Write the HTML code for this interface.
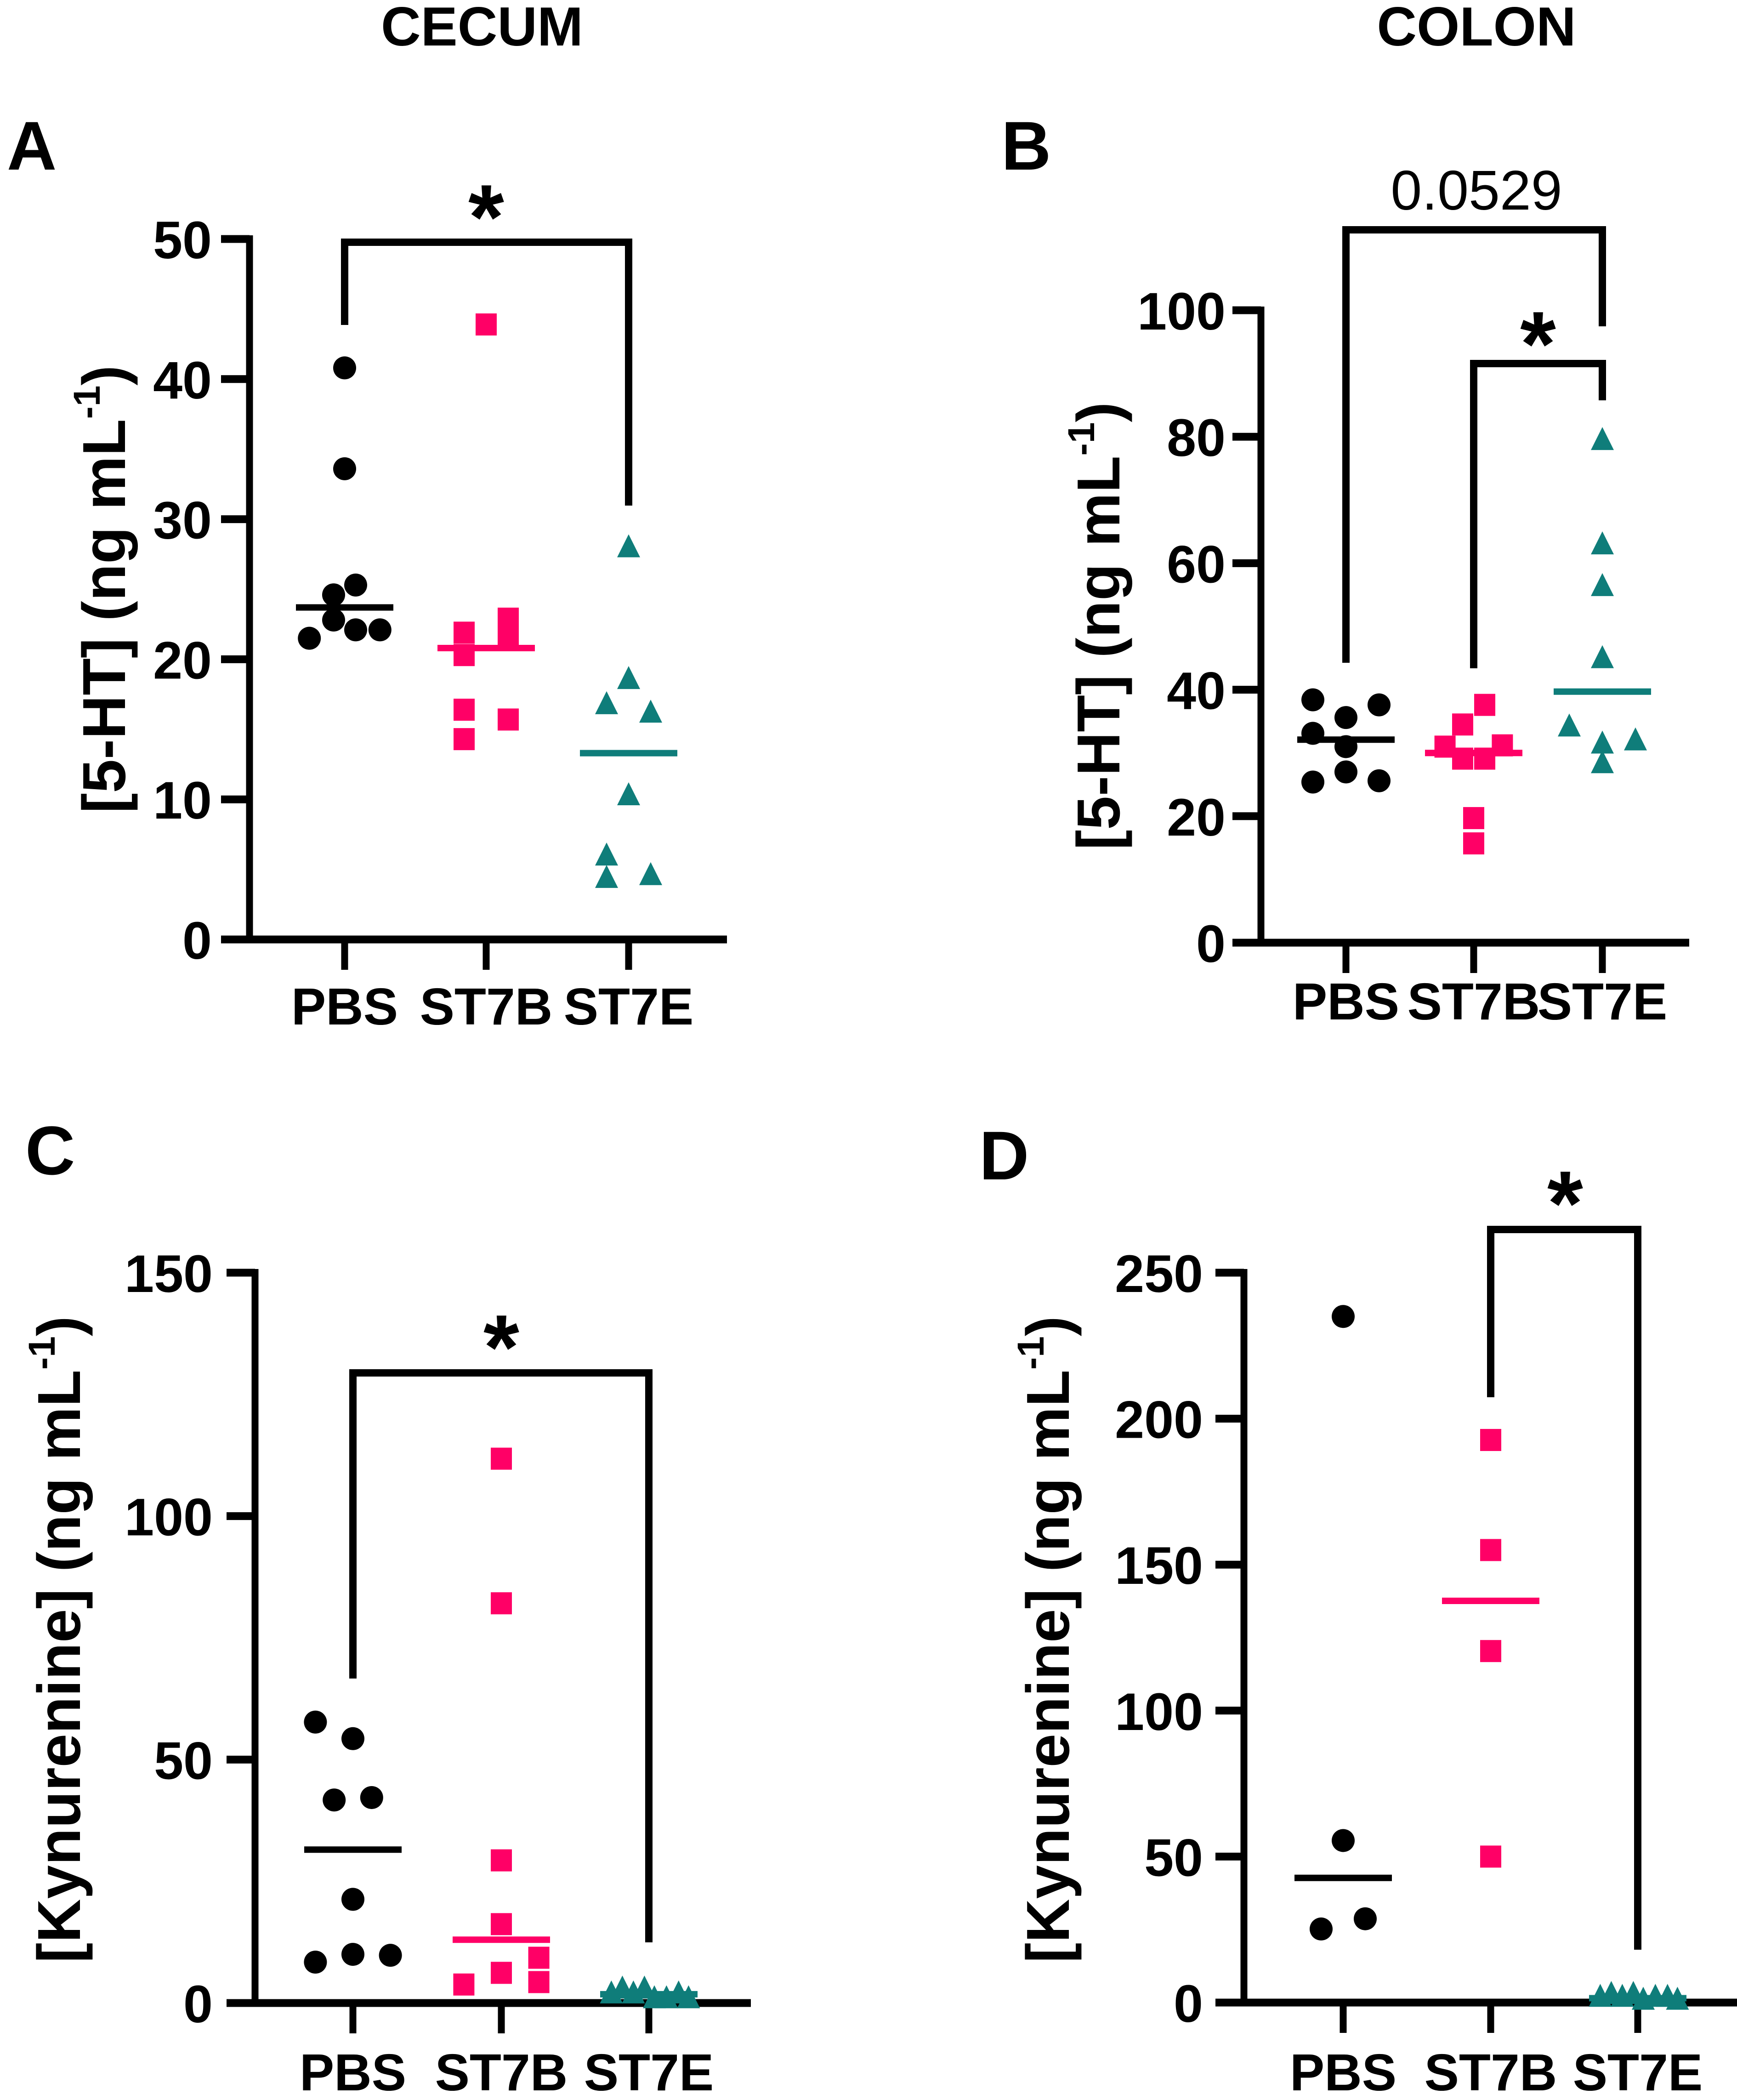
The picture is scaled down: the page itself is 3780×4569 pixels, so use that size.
<!DOCTYPE html>
<html><head><meta charset="utf-8"><style>html,body{margin:0;padding:0;background:#fff}svg{display:block}text{font-family:"Liberation Sans",Arial,sans-serif}</style></head>
<body>
<svg id="fig" xmlns="http://www.w3.org/2000/svg" width="3780" height="4569" viewBox="0 0 3780 4569">
<rect width="3780" height="4569" fill="#fff"/>
<text x="1049" y="99" font-size="120" font-weight="bold" text-anchor="middle">CECUM</text>
<text x="3213" y="99" font-size="120" font-weight="bold" text-anchor="middle">COLON</text>
<text x="15" y="369" font-size="150" font-weight="bold">A</text>
<text x="2179" y="369" font-size="150" font-weight="bold">B</text>
<text x="55" y="2555" font-size="150" font-weight="bold">C</text>
<text x="2131" y="2566" font-size="150" font-weight="bold">D</text>
<g id="layer"></g>
</svg>
<script>
// ---- data ----
const categories = ["PBS", "ST7B", "ST7E"];
// Panel A (cecum 5-HT)
const aPBS = [40.8, 33.6, 25.3, 24.6, 22.8, 22.1, 22.1, 21.5];
const aPBSdx = [0, 0, 0.5, -0.5, -0.5, 0.5, 1.6, -1.6];
const aST7B = [43.9, 22.9, 21.9, 21.5, 20.3, 16.4, 15.7, 14.3];
const aST7Bdx = [0, 1, -1, 1, -1, -1, 1, -1];
const aST7E = [28, 18.6, 16.8, 16.2, 10.3, 6.0, 4.6, 4.4];
const aST7Edx = [0, 0, -1, 1, 0, -1, 1, -1];
const aMeans = [23.7, 20.8, 13.3];
const aTicks = [0, 10, 20, 30, 40, 50];
// Panel B (colon 5-HT)
const bPBS = [38.4, 37.6, 35.6, 33.1, 31, 27, 25.6, 25.4];
const bPBSdx = [-1.5, 1.5, 0, -1.5, 0, 0, 1.5, -1.5];
const bST7B = [37.6, 34.5, 31.2, 31, 29.1, 29.1, 19.7, 15.7];
const bST7Bdx = [0.5, -0.5, 1.3, -1.3, -0.5, 0.5, 0, 0];
const bST7E = [79.5, 63, 56.4, 45, 34.2, 32, 31.5, 28.4];
const bST7Edx = [0, 0, 0, 0, -1.5, 1.5, 0, 0];
const bMeans = [32.1, 30, 39.7];
const bTicks = [0, 20, 40, 60, 80, 100];
// Panel C (cecum kynurenine)
const cPBS = [57.7, 54.3, 42.2, 41.7, 21.3, 10, 9.8, 8.4];
const cPBSdx = [-1.7, 0, 0.85, -0.85, 0, 0, 1.7, -1.7];
const cST7B = [111.8, 82.1, 29.3, 16.2, 9.3, 6.2, 4.3, 3.8];
const cST7Bdx = [0, 0, 0, 0, 1.7, 0, 1.7, -1.7];
const cST7E = [2, 3, 2, 3, 1, 1, 2, 1];
const cST7Edx = [-1.7, -1.2, -0.7, -0.2, 0.25, 0.8, 1.35, 1.8];
const cMeans = [31.5, 13, 1.8];
const cTicks = [0, 50, 100, 150];
// Panel D (colon kynurenine)
const dPBS = [235, 55.5, 28.7, 25.2];
const dPBSdx = [0, 0, 1, -1];
const dST7B = [192.7, 155, 120.4, 50];
const dST7Bdx = [0, 0, 0, 0];
const dST7E = [2, 3, 2, 3, 1, 2, 2, 1];
const dST7Edx = [-1.7, -1.2, -0.7, -0.2, 0.25, 0.8, 1.35, 1.8];
const dMeans = [42.7, 137.6, 1.5];
const dTicks = [0, 50, 100, 150, 200, 250];

const NS = "http://www.w3.org/2000/svg";
const layer = document.getElementById("layer");
const PINK = "#FF0066", TEAL = "#0F7D7A";
function mk(tag, attrs, parent) {
  const e = document.createElementNS(NS, tag);
  for (const k in attrs) e.setAttribute(k, attrs[k]);
  (parent || layer).appendChild(e);
  return e;
}
function panel(cfg) {
  const g = mk("g", {});
  
  
  const ymax = cfg.ticks[cfg.ticks.length - 1];
  const y = v => cfg.y0 - (v / ymax) * (cfg.y0 - cfg.yTop);
  const cx = i => cfg.cats[i];
  const U = 48;
  const ya = mk("line", {x1: cfg.ax, x2: cfg.ax, y1: cfg.yTop - 8, y2: cfg.y0 + 8, stroke: "#000", "stroke-width": 15}, g);
  
  
  const xa = mk("line", {x1: cfg.ax - 62, x2: cfg.xEnd, y1: cfg.y0, y2: cfg.y0, stroke: "#000", "stroke-width": 17}, g);
  
  
  cfg.ticks.forEach(t => {
    const l = mk("line", {x1: cfg.ax - 62, x2: cfg.ax, y1: y(t), y2: y(t), stroke: "#000", "stroke-width": 17}, g);
    
    
    const tx = mk("text", {x: cfg.labR, y: y(t) + 42, "font-size": 115, "font-weight": "bold", "text-anchor": "end"}, g);
    
    
    tx.textContent = t;
  });
  categories.forEach((c, i) => {
    const l = mk("line", {x1: cx(i), x2: cx(i), y1: cfg.y0, y2: cfg.y0 + 66, stroke: "#000", "stroke-width": 15}, g);
    
    
    const tx = mk("text", {x: cx(i), y: cfg.catY, "font-size": 113, "font-weight": "bold", "text-anchor": "middle"}, g);
    
    
    tx.textContent = c;
  });
  const yl = mk("text", {x: 0, y: 0, "font-size": 132, "font-weight": "bold", "text-anchor": "middle", transform: `translate(${cfg.ylx + 46},${cfg.yly}) rotate(-90)`}, g);
  
  
  yl.appendChild(document.createTextNode(cfg.ylab + " (ng mL"));
  const sp = mk("tspan", {"font-size": 82, dy: -55}, yl);
  sp.textContent = "-1";
  const sp2 = mk("tspan", {dy: 55}, yl);
  sp2.textContent = ")";
  const groups = [[cfg.v[0], cfg.dx[0]], [cfg.v[1], cfg.dx[1]], [cfg.v[2], cfg.dx[2]]];
  groups.forEach((gr, i) => {
    gr[0].forEach((v, j) => {
      const px = cx(i) + gr[1][j] * U, py = y(v);
      let m;
      if (i === 0) m = mk("ellipse", {cx: px, cy: py, rx: 25, ry: 25, fill: "#000"}, g);
      else if (i === 1) m = mk("rect", {x: px - 23, y: py - 24, width: 46, height: 48, fill: PINK}, g);
      else m = mk("polygon", {points: `${px - 25},${py + 22} ${px + 25},${py + 22} ${px},${py - 28}`, fill: TEAL}, g);
      
      
    });
    const ml = mk("line", {x1: cx(i) - 106, x2: cx(i) + 106, y1: y(cfg.means[i]), y2: y(cfg.means[i]), stroke: ["#000", PINK, TEAL][i], "stroke-width": 14}, g);
    
    
  });
  cfg.brackets.forEach(b => {
    const p = mk("polyline", {points: `${cx(b.a)},${b.la} ${cx(b.a)},${b.top} ${cx(b.b)},${b.top} ${cx(b.b)},${b.lb}`, fill: "none", stroke: "#000", "stroke-width": 16}, g);
    
    
    const t = mk("text", {x: b.tx, y: b.star ? b.ty + 118 : b.ty, "font-size": b.star ? 200 : 122, "font-weight": b.star ? "bold" : "normal", "text-anchor": "middle"}, g);
    
    
    t.textContent = b.label;
  });
}
panel({name: "panel-a-cecum-5ht", ax: 543, y0: 2044, yTop: 520, ticks: aTicks, xEnd: 1582, cats: [750, 1058, 1368], labR: 461, catY: 2229, ylx: 226, yly: 1282, ylab: "[5-HT]",
  v: [aPBS, aST7B, aST7E], dx: [aPBSdx, aST7Bdx, aST7Edx], means: aMeans,
  brackets: [{a: 0, b: 2, top: 527, la: 707, lb: 1100, star: true, label: "*", tx: 1058, ty: 423}]});
panel({name: "panel-b-colon-5ht", ax: 2744, y0: 2051, yTop: 675, ticks: bTicks, xEnd: 3676, cats: [2929, 3207, 3487], labR: 2667, catY: 2218, ylx: 2390, yly: 1362, ylab: "[5-HT]",
  v: [bPBS, bST7B, bST7E], dx: [bPBSdx, bST7Bdx, bST7Edx], means: bMeans,
  brackets: [{a: 0, b: 2, top: 500, la: 1442, lb: 710, star: false, label: "0.0529", tx: 3213, ty: 456},
             {a: 1, b: 2, top: 791, la: 1454, lb: 871, star: true, label: "*", tx: 3347, ty: 699}]});
panel({name: "panel-c-cecum-kynurenine", ax: 555, y0: 4358, yTop: 2769, ticks: cTicks, xEnd: 1634, cats: [768, 1091, 1412], labR: 463, catY: 4548, ylx: 128, yly: 3567, ylab: "[Kynurenine]",
  v: [cPBS, cST7B, cST7E], dx: [cPBSdx, cST7Bdx, cST7Edx], means: cMeans,
  brackets: [{a: 0, b: 2, top: 2987, la: 3652, lb: 4226, star: true, label: "*", tx: 1091, ty: 2882}]});
panel({name: "panel-d-colon-kynurenine", ax: 2707, y0: 4357, yTop: 2769, ticks: dTicks, xEnd: 3780, cats: [2923, 3244, 3564], labR: 2618, catY: 4548, ylx: 2280, yly: 3567, ylab: "[Kynurenine]",
  v: [dPBS, dST7B, dST7E], dx: [dPBSdx, dST7Bdx, dST7Edx], means: dMeans,
  brackets: [{a: 1, b: 2, top: 2675, la: 3040, lb: 4242, star: true, label: "*", tx: 3406, ty: 2569}]});
</script>
</body></html>
